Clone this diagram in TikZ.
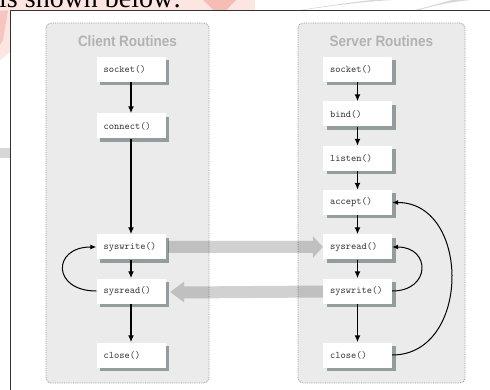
\documentclass[tikz,border=0pt]{standalone}
\usepackage{fontspec}
\setmainfont{Liberation Serif}
\newfontfamily\titlefont{Liberation Sans}
\usetikzlibrary{arrows.meta,shadows,calc}

\definecolor{panelgray}{RGB}{235,235,235}
\definecolor{paneledge}{RGB}{150,150,150}
\definecolor{titlegray}{RGB}{178,178,178}
\definecolor{boxtext}{RGB}{50,50,50}
\definecolor{shadowgray}{RGB}{118,132,132}
\definecolor{framegray}{RGB}{51,51,51}
\definecolor{pinkwash}{RGB}{253,229,225}
\definecolor{redwash}{RGB}{240,150,140}
\definecolor{graywash}{RGB}{215,215,215}

\begin{document}
\begin{tikzpicture}[x=1pt,y=-1pt,
  panel/.style={fill=panelgray,draw=paneledge,densely dotted,rounded corners=5pt,line width=0.8pt},
  paneltitle/.style={font=\titlefont\bfseries\fontsize{15}{15}\selectfont,text=titlegray,inner sep=0pt},
  routine/.style={fill=white,text=boxtext,font=\ttfamily\fontsize{10}{10}\selectfont,
    text width=55pt,align=left,inner xsep=7pt,inner ysep=0pt,minimum height=25pt,
    drop shadow={shadow xshift=3.5pt,shadow yshift=-3.5pt,fill=shadowgray,opacity=0.75}},
  flow/.style={-{Latex[length=7pt,width=6pt]},line width=1.4pt},
  cycleback/.style={-{Latex[length=6pt,width=5pt]},line width=1pt},
  datapath/.style={fill=black,fill opacity=0.18,draw=none}
]
\useasboundingbox (0,0) rectangle (490,390);
\clip (0,0) rectangle (490,390);

% page background wash above and left of the frame
\fill[pinkwash] (0,0) rectangle (255,10.5);
\fill[pinkwash] (0,10.5) -- (10,10.5) -- (10,52) -- (0,60) -- cycle;
\fill[redwash,opacity=0.5] (203,0) -- (236,0) -- (226,10.5) -- (214,10.5) -- cycle;
\fill[redwash,opacity=0.4] (0,10.5) -- (8,10.5) -- (3,40) -- (0,45) -- cycle;
\fill[graywash] (300,10.5) .. controls (330,6) and (360,2) .. (392,0) -- (372,0)
  .. controls (345,3) and (320,7) .. (296,10.5) -- cycle;
\fill[graywash] (418,10.5) .. controls (435,5) and (452,2) .. (470,0) -- (452,0)
  .. controls (440,3) and (428,7) .. (412,10.5) -- cycle;
\fill[graywash] (0,148) rectangle (10,158);

\node[anchor=base west,font=\fontsize{28}{28}\selectfont,inner sep=0pt] (caption) at (-1,7.5) {is shown below:};

% frame
\draw[framegray,line width=1pt] (10.5,390) -- (10.5,10.5) -- (490,10.5);

% panels
\draw[panel] (46,23) rectangle (209,383);
\draw[panel] (298,23) rectangle (465,383);
\node[paneltitle] (ctitle) at (127.5,41) {\scalebox{0.9}[1]{Client Routines}};
\node[paneltitle] (stitle) at (381.5,41) {\scalebox{0.9}[1]{Server Routines}};

% client routines
\node[routine] (csocket)  at (131,69.5) {socket()};
\node[routine] (cconnect) at (131,126)  {connect()};
\node[routine] (cwrite)   at (131,247)  {syswrite()};
\node[routine] (cread)    at (131,291)  {sysread()};
\node[routine] (cclose)   at (131,355)  {close()};

% server routines
\node[routine] (ssocket)  at (357.5,69.5) {socket()};
\node[routine] (sbind)    at (357.5,114)  {bind()};
\node[routine] (slisten)  at (357.5,158.5){listen()};
\node[routine] (saccept)  at (357.5,202.5){accept()};
\node[routine] (sread)    at (357.5,247)  {sysread()};
\node[routine] (swrite)   at (357.5,291)  {syswrite()};
\node[routine] (sclose)   at (357.5,355)  {close()};

% data exchanged between the two sides
\path[datapath] ($(cwrite.east)+(2.5,-6)$) -- ($(sread.west)+(-10,-6)$)
  -- ($(sread.west)+(-10,-11)$) -- (sread.west) -- ($(sread.west)+(-10,11)$)
  -- ($(sread.west)+(-10,6)$) -- ($(cwrite.east)+(2.5,6)$) -- cycle;
\coordinate (rtip) at ($(cread.east)+(4.5,1)$);
\path[datapath] ($(swrite.west)+(0,-5.5)$) -- ($(rtip)+(14,-5.5)$)
  -- ($(rtip)+(14,-10.5)$) -- (rtip) -- ($(rtip)+(14,10.5)$)
  -- ($(rtip)+(14,6.5)$) -- ($(swrite.west)+(0,6.5)$) -- cycle;

% client flow
\draw[flow] (csocket) -- (cconnect);
\draw[flow] (cconnect) -- (cwrite);
\draw[flow] (cwrite) -- (cread);
\draw[flow] (cread) -- (cclose);
\draw[cycleback] (cread.west) .. controls (52,291) and (52,247) .. (cwrite.west);

% server flow
\draw[flow] (ssocket) -- (sbind);
\draw[flow] (sbind) -- (slisten);
\draw[flow] (slisten) -- (saccept);
\draw[flow] (saccept) -- (sread);
\draw[flow] (sread) -- (swrite);
\draw[flow] (swrite) -- (sclose);
\draw[cycleback] (swrite.east) .. controls (431,291) and (431,247) .. (sread.east);
\draw[cycleback] (sclose.east) .. controls (471,355) and (471,202.5) .. (saccept.east);
\end{tikzpicture}
\end{document}
